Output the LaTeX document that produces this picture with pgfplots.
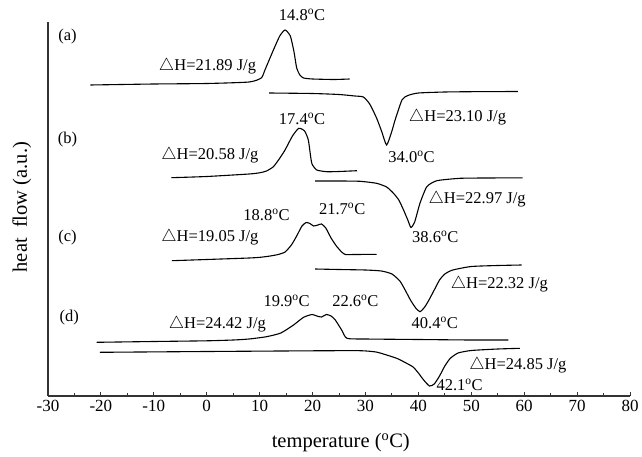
\documentclass[border=0pt]{standalone}
\usepackage{pgfplots}
\pgfplotsset{compat=1.18}
\usepackage{fontspec}
\setmainfont{Liberation Serif}
\newcommand\lab{\fontsize{16.5}{18}\selectfont}

\begin{document}
\begin{tikzpicture}
\path[use as bounding box] (-48pt,-60pt) rectangle (594pt,396pt);
\begin{axis}[
    scale only axis,
    width=582pt,
    height=374pt,
    xmin=-30, xmax=80,
    ymin=0, ymax=374,
    axis x line=bottom,
    axis y line=left,
    axis line style={-, line width=1.1pt, black!80},
    xtick={-30,-20,...,80},
    xticklabels={-30,-20,-10,0,10,20,30,40,50,60,70,80},
    minor x tick num=1,
    ytick=\empty,
    tick align=inside,
    major tick length=4pt,
    minor tick length=3pt,
    tick style={line width=1pt, black!80},
    ticklabel style={font=\fontsize{17}{18}\selectfont},
    xticklabel style={yshift=-1pt},
    xlabel={temperature (\textsuperscript{o}C)},
    ylabel={heat\ \ flow (a.u.)},
    label style={font=\fontsize{20.5}{22}\selectfont},
    xlabel style={at={(axis description cs:0.503,-0.125)}, anchor=center},
    ylabel style={at={(axis description cs:-0.045,0.505)}, anchor=center, rotate=0},
    clip=false,
    cycle list={{black,solid}},
    no markers,
    every axis plot/.append style={line width=1.1pt, smooth, tension=0.35},
]
% (a) cooling
\addplot coordinates {
(-22,311) (-10,312) (0,312.5) (8,314) (10.3,318) (11.0,326) (12.6,346)
(13.8,360) (14.8,366) (15.8,360) (16.5,344) (17.0,328) (17.6,321)
(18.3,318) (20,317) (24,316.5) (27,317)
};
% (a) heating
\addplot coordinates {
(11.8,303) (20,302.5) (25,301.5) (28,300) (29.6,299) (30.8,292) (32.1,278)
(33.1,264) (34.0,251) (35.0,265) (35.6,276) (36.9,296) (38,300.5)
(40,303) (45,304) (50,304.3) (58.8,304.5)
};
% (b) cooling
\addplot coordinates {
(-6.7,218.3) (0,219.5) (8,222) (10.1,223.3) (11.3,225) (12.6,229.3)
(13.7,237) (14.8,246) (16.2,260) (17.4,267.7) (18.5,265) (19.2,256)
(19.6,241) (19.9,232) (20.8,226) (22.7,224.3) (25,224.5) (28.4,225.3)
};
% (b) heating
\addplot coordinates {
(20.5,215) (25,215) (29,214.7) (32.1,212.7) (34,209) (35.3,202.7)
(36.3,196) (37.2,186) (38.0,176) (38.6,168.5) (39.3,174) (40.3,192.7)
(41.6,209.3) (43.5,215.3) (47.9,217.7) (53,218) (59.7,218.2)
};
% (c) cooling
\addplot coordinates {
(-6.6,135.3) (0,136.5) (8,138) (10.1,138.7) (12,140) (13.5,141.5)
(14.8,144) (16,151) (17,160) (18,170) (18.8,173.5) (19.5,172.5)
(20.2,170) (21,171) (21.7,172) (22.5,168) (23.5,158) (24.5,150)
(25.5,144) (26.2,141.5) (28,141.5) (32.1,141.7)
};
% (c) heating
\addplot coordinates {
(20.5,127) (25,126.5) (30,126) (33,125) (35,122) (36.5,115) (37.5,106)
(38.5,96) (39.5,88) (40.3,84.3) (41.2,89) (42,96) (43,106) (44,116)
(45,122) (46.5,126) (50,129.5) (55,130.5) (59.5,131)
};
% (d) cooling
\addplot coordinates {
(-20.8,53.7) (-10,54.5) (0,55.2) (5,56) (8,57) (11.3,59.3) (14,63)
(16.4,71) (18.3,78.7) (19.9,81.5) (20.8,80) (21.7,79) (22.6,81.5)
(23.5,80) (24.3,76) (25.5,66) (26.5,57.7) (30,57) (40,56.5) (50,56) (57,56)
};
% (d) heating
\addplot coordinates {
(-20.2,43.7) (0,44.5) (20,45.2) (29,45.3) (32,44) (34,41) (36,37.5)
(37.5,33.5) (39,29) (40,23) (41,16) (42.1,10) (43,12) (44,20) (45,30)
(46,37.5) (47.5,43) (50,45.5) (55,47) (59.2,47.7)
};

\node[font=\lab] at (axis cs:-26.3,359) {(a)};
\node[font=\lab] at (axis cs:-26.3,256) {(b)};
\node[font=\lab] at (axis cs:-26.3,158) {(c)};
\node[font=\lab] at (axis cs:-26.0,78) {(d)};

\node[font=\lab] at (axis cs:18.0,381) {14.8\textsuperscript{o}C};
\node[font=\lab] at (axis cs:0.15,330) {$\triangle$H=21.89 J/g};
\node[font=\lab] at (axis cs:47.4,279) {$\triangle$H=23.10 J/g};
\node[font=\lab] at (axis cs:38.7,239) {34.0\textsuperscript{o}C};

\node[font=\lab] at (axis cs:18.0,277) {17.4\textsuperscript{o}C};
\node[font=\lab] at (axis cs:0.6,241) {$\triangle$H=20.58 J/g};
\node[font=\lab] at (axis cs:51.1,197) {$\triangle$H=22.97 J/g};
\node[font=\lab] at (axis cs:43.2,159) {38.6\textsuperscript{o}C};

\node[font=\lab] at (axis cs:11.3,181) {18.8\textsuperscript{o}C};
\node[font=\lab] at (axis cs:25.6,187) {21.7\textsuperscript{o}C};
\node[font=\lab] at (axis cs:0.6,159) {$\triangle$H=19.05 J/g};
\node[font=\lab] at (axis cs:55.3,111.5) {$\triangle$H=22.32 J/g};
\node[font=\lab] at (axis cs:43.1,73) {40.4\textsuperscript{o}C};

\node[font=\lab] at (axis cs:15.1,95) {19.9\textsuperscript{o}C};
\node[font=\lab] at (axis cs:28.1,95) {22.6\textsuperscript{o}C};
\node[font=\lab] at (axis cs:2.0,72) {$\triangle$H=24.42 J/g};
\node[font=\lab] at (axis cs:58.8,31) {$\triangle$H=24.85 J/g};
\node[font=\lab] at (axis cs:47.8,11) {42.1\textsuperscript{o}C};
\end{axis}
\end{tikzpicture}
\end{document}
